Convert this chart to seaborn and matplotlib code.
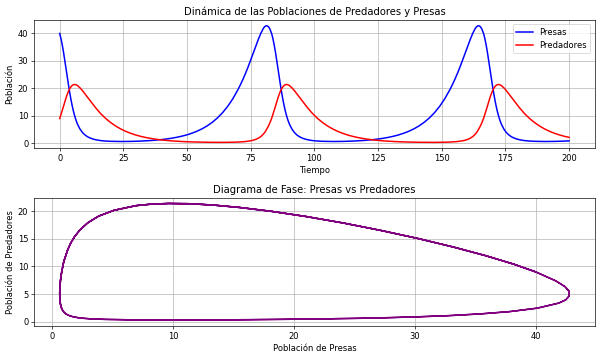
import matplotlib
matplotlib.use("Agg")
import matplotlib.pyplot as plt
import seaborn as sns
import pandas as pd

# Valores (tiempo, presas, predadores)
tiempo = [
    0, 0.5, 1, 1.5, 2, 2.5, 3, 3.5, 4, 4.5, 5, 5.5, 6, 6.5, 7,
    8, 9, 10, 11, 12, 13, 14,
    16, 18, 20, 22, 24, 26, 28, 30, 32, 34, 36, 38, 40, 42, 44, 46, 48, 50,
    52, 54, 56, 58, 60, 62, 64, 66, 68, 70,
    71, 72, 73, 74, 75, 76, 77, 78, 79, 80,
    80.5, 81, 81.5, 82, 82.5,
    83.2, 83.7, 84.2, 84.7, 85.2, 85.7, 86.2, 86.7, 87.2, 87.7, 88.2, 88.7, 89.2, 89.7, 90.2,
    91.2, 92.2, 93.2, 94.2, 95.2, 96.2, 97.2,
    99.2, 101.2, 103.2, 105.2, 107.2, 109.2, 111.2, 113.2, 115.2, 117.2, 119.2, 121.2, 123.2, 125.2,
    127.2, 129.2, 131.2, 133.2, 135.2, 137.2, 139.2, 141.2, 143.2, 145.2, 147.2, 149.2, 151.2, 153.2,
    154.2, 155.2, 156.2, 157.2, 158.2, 159.2, 160.2, 161.2, 162.2, 163.2,
    163.7, 164.2, 164.7, 165.2, 165.7,
    166.4, 166.9, 167.4, 167.9, 168.4, 168.9, 169.4, 169.9, 170.4, 170.9, 171.4, 171.9, 172.4, 172.9, 173.4,
    174.4, 175.4, 176.4, 177.4, 178.4, 179.4, 180.4,
    182.4, 184.4, 186.4, 188.4, 190.4, 192.4, 194.4, 196.4, 198.4, 200,
]

presas = [
    40, 38.17, 35.89, 33.23, 30.28, 27.17, 24.04, 21.0, 18.16, 15.58, 13.29, 11.30, 9.60, 8.16, 6.95,
    5.12, 3.85, 2.96, 2.33, 1.88, 1.55, 1.30,
    0.97, 0.80, 0.70, 0.65, 0.63, 0.64, 0.665, 0.715, 0.785, 0.875, 0.99, 1.14, 1.33, 1.555, 1.83, 2.17, 2.575, 3.07,
    3.68, 4.41, 5.30, 6.38, 7.69, 9.27, 11.18, 13.48, 16.24, 19.53,
    21.38, 23.39, 25.55, 27.86, 30.30, 32.84, 35.40, 37.85, 40.11, 41.90,
    42.47, 42.75, 42.75, 42.40, 41.65,
    40, 38.17, 35.89, 33.23, 30.28, 27.17, 24.04, 21.0, 18.16, 15.58, 13.29, 11.30, 9.60, 8.16, 6.95,
    5.12, 3.85, 2.96, 2.33, 1.88, 1.55, 1.30,
    0.97, 0.80, 0.70, 0.65, 0.63, 0.64, 0.665, 0.715, 0.785, 0.875, 0.99, 1.14, 1.33, 1.555,
    1.83, 2.17, 2.575, 3.07, 3.68, 4.41, 5.30, 6.38, 7.69, 9.27, 11.18, 13.48, 16.24, 19.53,
    21.38, 23.39, 25.55, 27.86, 30.30, 32.84, 35.40, 37.85, 40.11, 41.90,
    42.47, 42.75, 42.75, 42.40, 41.65,
    40, 38.17, 35.89, 33.23, 30.28, 27.17, 24.04, 21.0, 18.16, 15.58, 13.29, 11.30, 9.60, 8.16, 6.95,
    5.12, 3.85, 2.96, 2.33, 1.88, 1.55, 1.30,
    0.97, 0.80, 0.70, 0.65, 0.63, 0.64, 0.665, 0.715, 0.785, 0.855,
]

predadores = [
    9.0, 10.41, 11.92, 13.48, 15.04, 16.52, 17.87, 19.03, 19.96, 20.65, 21.11, 21.35, 21.39, 21.26, 21.0,
    20.15, 19.1, 17.9, 16.65, 15.45, 14.25, 13.05,
    10.88, 9.07, 7.54, 6.26, 5.19, 4.30, 3.57, 2.96, 2.46, 2.05, 1.71, 1.425, 1.19, 1.0, 0.85, 0.722, 0.62, 0.536,
    0.47, 0.418, 0.377, 0.347, 0.326, 0.316, 0.317, 0.33, 0.366, 0.43,
    0.477, 0.538, 0.62, 0.735, 0.89, 1.10, 1.41, 1.83, 2.45, 3.37,
    3.95, 4.64, 5.5, 6.36, 7.38,
    9.0, 10.41, 11.92, 13.48, 15.04, 16.52, 17.87, 19.03, 19.96, 20.65, 21.11, 21.35, 21.39, 21.26, 21.0,
    20.15, 19.1, 17.9, 16.65, 15.45, 14.25, 13.05,
    10.88, 9.07, 7.54, 6.26, 5.19, 4.30, 3.57, 2.96, 2.46, 2.05, 1.71, 1.425, 1.19, 1.0,
    0.85, 0.722, 0.62, 0.536, 0.47, 0.418, 0.377, 0.347, 0.326, 0.316, 0.317, 0.33, 0.366, 0.43,
    0.477, 0.538, 0.62, 0.735, 0.89, 1.10, 1.41, 1.83, 2.45, 3.37,
    3.95, 4.64, 5.5, 6.36, 7.38,
    9.0, 10.41, 11.92, 13.48, 15.04, 16.52, 17.87, 19.03, 19.96, 20.65, 21.11, 21.35, 21.39, 21.26, 21.0,
    20.15, 19.1, 17.9, 16.65, 15.45, 14.25, 13.05,
    10.88, 9.07, 7.54, 6.26, 5.19, 4.30, 3.57, 2.96, 2.46, 2.13,
]

df = pd.DataFrame({"Tiempo": tiempo, "Presas": presas, "Predadores": predadores})

fig, (ax1, ax2) = plt.subplots(2, 1, figsize=(10, 358 / 60), dpi=60)
fig.subplots_adjust(left=0.057, right=0.991, top=0.944, bottom=0.090, hspace=0.386)

sns.lineplot(data=df, x="Tiempo", y="Presas", color="blue", label="Presas", ax=ax1, linewidth=1.8)
sns.lineplot(data=df, x="Tiempo", y="Predadores", color="red", label="Predadores", ax=ax1, linewidth=1.8)
ax1.set_title("Dinámica de las Poblaciones de Predadores y Presas")
ax1.set_xlabel("Tiempo")
ax1.set_ylabel("Población")
ax1.legend(loc="upper right")
ax1.grid(True)

sns.lineplot(data=df, x="Presas", y="Predadores", sort=False, estimator=None,
             color="purple", ax=ax2, linewidth=1.8)
ax2.set_title("Diagrama de Fase: Presas vs Predadores")
ax2.set_xlabel("Población de Presas")
ax2.set_ylabel("Población de Predadores")
ax2.grid(True)

fig.savefig("out.png", dpi=60)
